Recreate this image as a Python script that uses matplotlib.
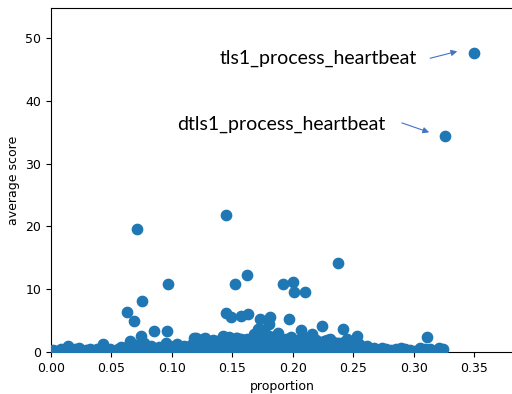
import matplotlib.pyplot as plt

# outlying points
out_x = [0.350, 0.326, 0.071, 0.145, 0.237, 0.162, 0.097, 0.152, 0.192, 0.200,
         0.201, 0.210, 0.075, 0.063, 0.069, 0.145, 0.149, 0.157, 0.163, 0.173,
         0.181, 0.180, 0.197, 0.188, 0.224, 0.241, 0.311, 0.085, 0.096, 0.074,
         0.065, 0.171, 0.176, 0.207, 0.216, 0.245, 0.253, 0.120, 0.142, 0.168]
out_y = [47.7, 34.4, 19.6, 21.8, 14.2, 12.2, 10.8, 10.8, 10.8, 11.2,
         9.6, 9.5, 8.2, 6.3, 4.9, 6.2, 5.6, 5.8, 6.1, 5.2,
         5.5, 4.4, 5.2, 3.0, 4.1, 3.6, 2.4, 3.3, 3.4, 2.6,
         1.8, 3.6, 3.5, 3.5, 2.9, 2.0, 2.5, 2.3, 2.5, 2.8]

# dense band near zero
base_x = [0.002, 0.005, 0.008, 0.011, 0.014, 0.017, 0.020, 0.023, 0.026, 0.029,
          0.032, 0.035, 0.038, 0.041, 0.043, 0.046, 0.049, 0.052, 0.055, 0.058,
          0.061, 0.064, 0.067, 0.070, 0.073, 0.077, 0.080, 0.083, 0.086, 0.089,
          0.092, 0.095, 0.098, 0.101, 0.104, 0.107, 0.110, 0.113, 0.116, 0.118,
          0.121, 0.124, 0.126, 0.129, 0.131, 0.134, 0.136, 0.139, 0.141, 0.143,
          0.146, 0.148, 0.150, 0.152, 0.154, 0.156, 0.158, 0.160, 0.162, 0.164,
          0.166, 0.168, 0.170, 0.172, 0.174, 0.176, 0.178, 0.180, 0.182, 0.184,
          0.186, 0.188, 0.190, 0.192, 0.194, 0.196, 0.198, 0.200, 0.202, 0.204,
          0.206, 0.208, 0.210, 0.212, 0.214, 0.217, 0.219, 0.221, 0.224, 0.226,
          0.229, 0.231, 0.234, 0.236, 0.239, 0.242, 0.244, 0.247, 0.250, 0.252,
          0.255, 0.258, 0.261, 0.264, 0.267, 0.270, 0.274, 0.277, 0.281, 0.285,
          0.289, 0.293, 0.297, 0.301, 0.305, 0.309, 0.313, 0.317, 0.321, 0.324,
          0.112, 0.117, 0.123, 0.128, 0.133, 0.138, 0.144, 0.149, 0.155, 0.159,
          0.165, 0.169, 0.175, 0.179, 0.185, 0.189, 0.195, 0.199, 0.205, 0.209,
          0.215, 0.220, 0.225, 0.230, 0.235, 0.240, 0.246, 0.251, 0.256, 0.262,
          0.060, 0.068, 0.079, 0.088, 0.094, 0.103, 0.108, 0.027, 0.044, 0.001,
          0.127, 0.137, 0.147, 0.157, 0.167, 0.177, 0.187, 0.197, 0.207, 0.218,
          0.228, 0.238, 0.248, 0.119, 0.153, 0.183, 0.213, 0.233]
base_y = [0.3, 0.2, 0.4, 0.2, 1.0, 0.3, 0.5, 0.6, 0.2, 0.3,
          0.5, 0.2, 0.4, 0.7, 1.2, 0.3, 0.5, 0.2, 0.4, 0.8,
          0.5, 0.9, 0.3, 1.1, 0.6, 1.4, 0.5, 1.0, 0.4, 0.8,
          0.5, 1.5, 0.9, 0.4, 1.2, 0.6, 0.9, 0.3, 1.1, 2.3,
          1.6, 0.7, 2.0, 1.3, 0.5, 1.9, 1.0, 1.7, 0.6, 2.4,
          1.4, 0.8, 2.0, 1.2, 2.2, 0.5, 1.8, 1.0, 2.1, 1.5,
          0.7, 2.3, 1.3, 2.6, 0.9, 1.9, 1.2, 2.5, 0.6, 1.7,
          2.1, 1.0, 1.6, 0.4, 2.0, 1.3, 2.4, 0.8, 1.5, 1.9,
          0.6, 1.4, 2.2, 1.0, 1.7, 0.5, 1.9, 1.2, 0.7, 1.8,
          1.0, 2.0, 0.5, 1.4, 0.9, 1.6, 0.6, 1.1, 1.8, 0.7,
          1.3, 0.5, 0.9, 0.4, 0.7, 0.3, 0.6, 0.4, 0.3, 0.5,
          0.7, 0.4, 0.3, 0.2, 0.6, 0.4, 0.5, 0.2, 0.6, 0.5,
          0.2, 0.4, 0.1, 0.3, 0.2, 0.4, 0.1, 0.3, 0.2, 0.4,
          0.1, 0.3, 0.2, 0.4, 0.1, 0.3, 0.2, 0.4, 0.1, 0.3,
          0.2, 0.4, 0.1, 0.3, 0.2, 0.4, 0.1, 0.3, 0.2, 0.1,
          0.2, 0.1, 0.3, 0.2, 0.1, 0.3, 0.2, 0.1, 0.2, 0.1,
          2.2, 1.8, 2.4, 2.1, 1.9, 2.7, 2.2, 1.8, 2.0, 1.6,
          1.9, 1.4, 1.5, 1.2, 2.3, 2.4, 1.2, 1.6]

labels = ["tls1_process_heartbeat", "dtls1_process_heartbeat"]
label_xy = [(0.3026, 46.8), (0.2768, 36.3)]
arrow_from = [(0.3134, 46.8), (0.290, 36.5)]
arrow_to = [(0.3358, 47.9), (0.3126, 35.0)]

fig = plt.figure(figsize=(5.12, 3.94), dpi=100)
ax = fig.add_axes([0.0996, 0.1066, 0.905, 0.873])

ax.scatter(base_x + out_x, base_y + out_y, s=55, color='#1f77b4', zorder=3)

for txt, (tx, ty), p0, p1 in zip(labels, label_xy, arrow_from, arrow_to):
    ax.text(tx, ty, txt, ha='right', va='center', fontsize=14, family='Lato')
    ax.annotate('', xy=p1, xytext=p0,
                arrowprops=dict(arrowstyle='-|>', color='#4472c4', lw=0.8,
                                mutation_scale=9, shrinkA=0, shrinkB=0))

ax.set_xlim(0, 0.383)
ax.set_ylim(0, 54.8)
ax.set_xticks([0.0, 0.05, 0.10, 0.15, 0.20, 0.25, 0.30, 0.35])
ax.set_yticks([0, 10, 20, 30, 40, 50])
ax.tick_params(labelsize=9)
ax.set_xlabel('proportion', fontsize=9)
ax.set_ylabel('average score', fontsize=9)

plt.savefig("out.png", dpi=100)
